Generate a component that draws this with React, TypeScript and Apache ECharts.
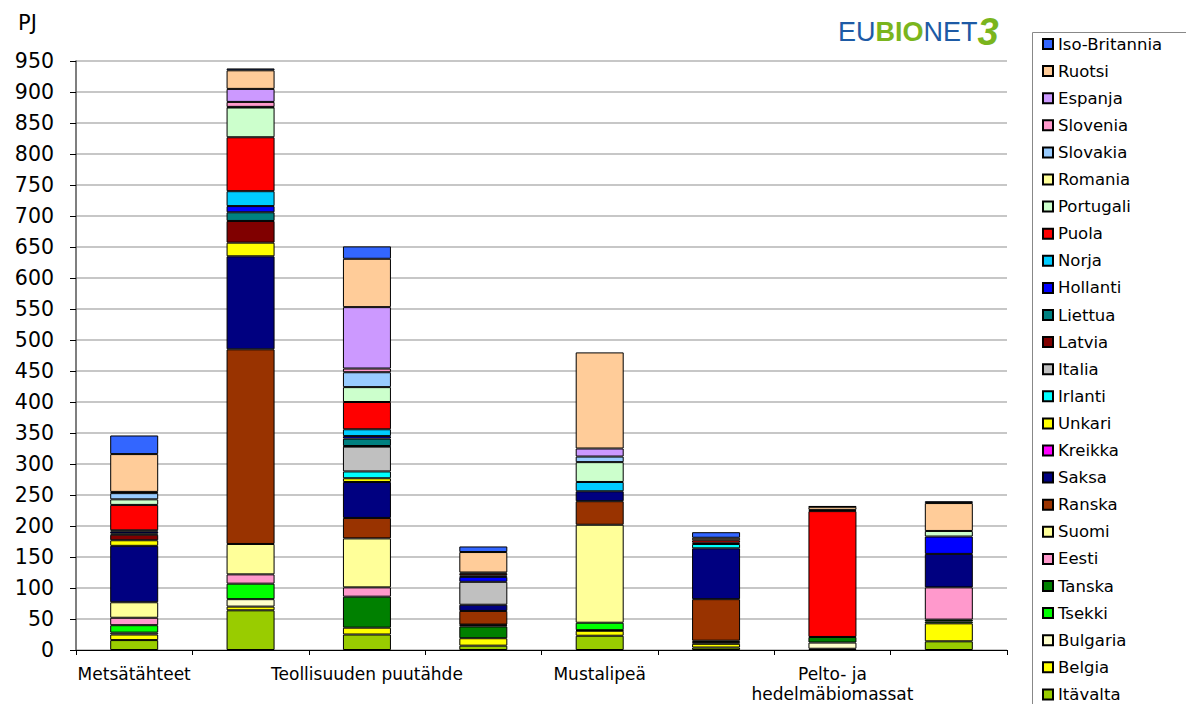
import React, { useEffect, useRef } from "react";
import * as echarts from "echarts";

const categories = [
  "Metsätähteet",
  "",
  "Teollisuuden puutähde",
  "",
  "Mustalipeä",
  "",
  "Pelto- ja\nhedelmäbiomassat",
  "",
];

const yTicks = { min: 0, max: 950, interval: 50 };

// bottom-to-top stacking order
const countries = [
  "Itävalta", "Belgia", "Bulgaria", "Tsekki", "Tanska", "Eesti", "Suomi", "Ranska",
  "Saksa", "Kreikka", "Unkari", "Irlanti", "Italia", "Latvia", "Liettua", "Hollanti",
  "Norja", "Puola", "Portugali", "Romania", "Slovakia", "Slovenia", "Espanja",
  "Ruotsi", "Iso-Britannia",
];

const colors: Record<string, string> = {
  "Itävalta": "#99CC00",
  "Belgia": "#FFFF00",
  "Bulgaria": "#FFFFCC",
  "Tsekki": "#00FF00",
  "Tanska": "#008000",
  "Eesti": "#FF99CC",
  "Suomi": "#FFFF99",
  "Ranska": "#993300",
  "Saksa": "#000080",
  "Kreikka": "#FF00FF",
  "Unkari": "#FFFF00",
  "Irlanti": "#00FFFF",
  "Italia": "#C0C0C0",
  "Latvia": "#800000",
  "Liettua": "#008080",
  "Hollanti": "#0000FF",
  "Norja": "#00CCFF",
  "Puola": "#FF0000",
  "Portugali": "#CCFFCC",
  "Romania": "#FFFF99",
  "Slovakia": "#99CCFF",
  "Slovenia": "#FF99CC",
  "Espanja": "#CC99FF",
  "Ruotsi": "#FFCC99",
  "Iso-Britannia": "#3366FF",
};

const Itavalta = [16, 64, 25, 7, 23, 4, 2, 14];
const Belgia = [9, 6, 11, 12, 8, 6, 0, 29];
const Bulgaria = [3, 12, 0, 0, 1, 3, 10, 0];
const Tsekki = [12, 25, 0, 0, 12, 0, 0, 3];
const Tanska = [0, 0, 50, 19, 0, 2, 9, 3];
const Eesti = [12, 15, 15, 2, 0, 0, 0, 52];
const Suomi = [25, 49, 79, 1, 158, 0, 0, 0];
const Ranska = [0, 314, 33, 22, 38, 67, 0, 0];
const Saksa = [91, 150, 58, 10, 16, 82, 0, 54];
const Kreikka = [0, 0, 0, 0, 0, 0, 0, 0];
const Unkari = [9, 22, 6, 0, 0, 0, 0, 0];
const Irlanti = [0, 0, 11, 0, 0, 7, 0, 0];
const Italia = [0, 0, 40, 37, 0, 0, 0, 0];
const Latvia = [9, 35, 1, 0, 0, 2, 0, 0];
const Liettua = [2, 14, 12, 0, 0, 0, 0, 0];
const Hollanti = [3, 10, 4, 8, 0, 0, 0, 28];
const Norja = [2, 24, 11, 2, 15, 0, 0, 0];
const Puola = [41, 87, 44, 3, 0, 4, 203, 0];
const Portugali = [9, 48, 24, 2, 32, 0, 2, 9];
const Romania = [0, 1, 0, 0, 0, 0, 0, 0];
const Slovakia = [10, 0, 24, 0, 9, 0, 0, 0];
const Slovenia = [0, 8, 6, 0, 0, 0, 0, 0];
const Espanja = [2, 21, 99, 0, 13, 0, 0, 0];
const Ruotsi = [61, 30, 78, 33, 155, 4, 5, 45];
const IsoBritannia = [30, 3, 20, 9, 0, 9, 1, 3];

const values: Record<string, number[]> = {
  "Itävalta": Itavalta,
  "Belgia": Belgia,
  "Bulgaria": Bulgaria,
  "Tsekki": Tsekki,
  "Tanska": Tanska,
  "Eesti": Eesti,
  "Suomi": Suomi,
  "Ranska": Ranska,
  "Saksa": Saksa,
  "Kreikka": Kreikka,
  "Unkari": Unkari,
  "Irlanti": Irlanti,
  "Italia": Italia,
  "Latvia": Latvia,
  "Liettua": Liettua,
  "Hollanti": Hollanti,
  "Norja": Norja,
  "Puola": Puola,
  "Portugali": Portugali,
  "Romania": Romania,
  "Slovakia": Slovakia,
  "Slovenia": Slovenia,
  "Espanja": Espanja,
  "Ruotsi": Ruotsi,
  "Iso-Britannia": IsoBritannia,
};

const FONT = "DejaVu Sans, Verdana, sans-serif";

export default function App() {
  const ref = useRef<HTMLDivElement>(null);
  useEffect(() => {
    document.body.style.margin = "0";
    document.body.style.overflow = "hidden";
    const chart = echarts.init(ref.current!, undefined, { renderer: "svg" });
    const series = countries.map((name) => ({
      name,
      type: "bar",
      stack: "total",
      barWidth: 48,
      data: values[name].map((v) => (v === 0 ? "-" : v)),
      itemStyle: { color: colors[name], borderColor: "#000", borderWidth: 1 },
    }));
    chart.setOption({
      animation: false,
      backgroundColor: "#fff",
      textStyle: { fontFamily: FONT },
      grid: { left: 76, right: 179, top: 61, bottom: 51, containLabel: false },
      legend: {
        orient: "vertical",
        left: 1042,
        top: 35,
        height: 760,
        padding: 0,
        itemWidth: 10,
        itemHeight: 10,
        itemGap: 9.1,
        icon: "rect",
        data: [...countries].reverse(),
        textStyle: { fontSize: 16.5, color: "#000", fontFamily: FONT, lineHeight: 18 },
      },
      xAxis: {
        type: "category",
        data: categories,
        axisLine: { lineStyle: { color: "#000", width: 1 } },
        axisTick: { show: true, length: 5, interval: 0, lineStyle: { color: "#000" } },
        axisLabel: { interval: 0, fontSize: 17, color: "#000", margin: 14, lineHeight: 20, fontFamily: FONT },
      },
      yAxis: {
        type: "value",
        min: yTicks.min,
        max: yTicks.max,
        interval: yTicks.interval,
        axisLine: { show: true, lineStyle: { color: "#555", width: 1.5 } },
        axisTick: { show: true, length: 6, inside: false, lineStyle: { color: "#000" } },
        axisLabel: { fontSize: 20.5, color: "#000", margin: 22, fontFamily: FONT },
        splitLine: { show: true, lineStyle: { color: "#b4b4b4", width: 1.5 } },
      },
      graphic: [
        {
          type: "rect",
          left: 1030,
          top: 30,
          shape: { width: 200, height: 700 },
          style: { fill: "none", stroke: "#888", lineWidth: 1 },
          z: -1,
        },
        {
          type: "text",
          left: 18,
          top: 12,
          style: { text: "PJ", fontSize: 21, fill: "#000", fontFamily: FONT },
        },
        {
          type: "text",
          left: 838,
          top: 13,
          style: {
            text: "{a|EU}{b|BIO}{a|NET}{c|3}",
            rich: {
              a: { fontSize: 27, fill: "#1d5aa5", fontFamily: "Liberation Sans, Arial, sans-serif" },
              b: { fontSize: 27, fontWeight: "bold", fill: "#7ab51d", fontFamily: "Liberation Sans, Arial, sans-serif" },
              c: { fontSize: 38, fontWeight: "bold", fontStyle: "italic", fill: "#7ab51d", fontFamily: "Liberation Sans, Arial, sans-serif" },
            },
          },
        },
      ],
      series,
    });
    return () => chart.dispose();
  }, []);
  return <div ref={ref} style={{ width: 1186, height: 704 }} />;
}
